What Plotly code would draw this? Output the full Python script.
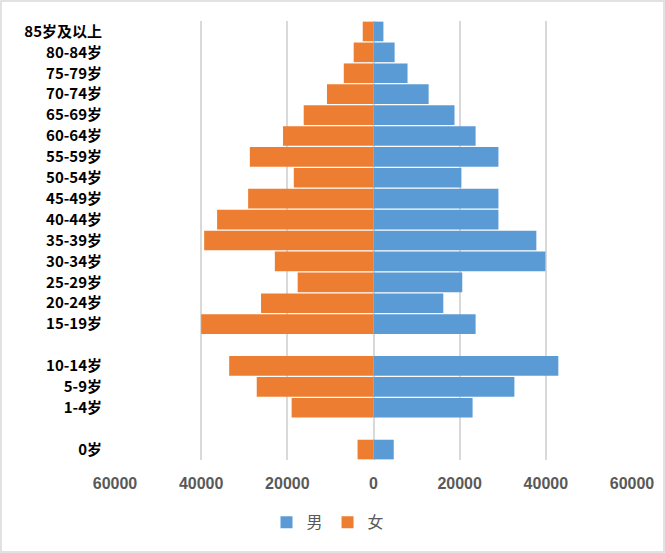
import plotly.graph_objects as go

ages = ["0岁", "1-4岁", "5-9岁", "10-14岁", "15-19岁", "20-24岁", "25-29岁",
        "30-34岁", "35-39岁", "40-44岁", "45-49岁", "50-54岁", "55-59岁",
        "60-64岁", "65-69岁", "70-74岁", "75-79岁", "80-84岁", "85岁及以上"]
male = [4700, 23000, 32700, 42900, 23700, 16200, 20600, 39900, 37800,
        29000, 29000, 20400, 29000, 23700, 18800, 12800, 7900, 4900, 2300]
female = [3700, 19000, 27100, 33500, 40000, 26100, 17600, 22900, 39300,
          36300, 29100, 18500, 28700, 21000, 16200, 10800, 6900, 4600, 2500]

# category order on the axis, with two blank spacer rows
order = ["0岁", " ", "1-4岁", "5-9岁", "10-14岁", "  ", "15-19岁", "20-24岁",
         "25-29岁", "30-34岁", "35-39岁", "40-44岁", "45-49岁", "50-54岁",
         "55-59岁", "60-64岁", "65-69岁", "70-74岁", "75-79岁", "80-84岁",
         "85岁及以上"]

tick_vals = [-60000, -40000, -20000, 0, 20000, 40000, 60000]
tick_text = ["60000", "40000", "20000", "0", "20000", "40000", "60000"]

fig = go.Figure()
fig.add_trace(go.Bar(y=ages, x=male, orientation="h", name="男",
                     marker=dict(color="#5B9BD5", line=dict(width=0))))
fig.add_trace(go.Bar(y=ages, x=[-v for v in female], orientation="h", name="女",
                     marker=dict(color="#ED7D31", line=dict(width=0))))

fig.update_layout(
    width=665, height=553,
    margin=dict(l=115, r=33, t=21, b=93),
    paper_bgcolor="white", plot_bgcolor="white",
    barmode="relative", bargap=0.06,
    showlegend=True,
    legend=dict(orientation="h", x=0.412, xanchor="center", y=-0.142, yanchor="middle",
                font=dict(family="Noto Sans CJK SC", size=16, color="#595959"),
                itemwidth=30, traceorder="normal"),
    xaxis=dict(range=[-60000, 60000], tickvals=tick_vals, ticktext=tick_text,
               showgrid=True, gridcolor="#D9D9D9", gridwidth=1.5,
               zeroline=True, zerolinecolor="#D9D9D9", zerolinewidth=2,
               ticks="", ticklabelstandoff=12,
               tickfont=dict(family="Liberation Sans", size=16, color="#595959", weight="bold")),
    yaxis=dict(type="category", categoryorder="array", categoryarray=order,
               range=[-0.5, 20.5], showgrid=False, ticks="",
               ticklabelstandoff=12,
               tickfont=dict(family="Noto Sans CJK SC", size=15, color="#000000", weight="bold")),
    shapes=[dict(type="rect", xref="paper", yref="paper",
                 x0=(1 - 115) / 517, x1=(664 - 115) / 517,
                 y0=(460 - 552) / 439, y1=(460 - 1) / 439,
                 line=dict(color="#D9D9D9", width=1.5), fillcolor="rgba(0,0,0,0)",
                 layer="below")],
)

fig.write_html("out.html", config={"displayModeBar": False},
               post_script="document.body.style.margin='0';")
